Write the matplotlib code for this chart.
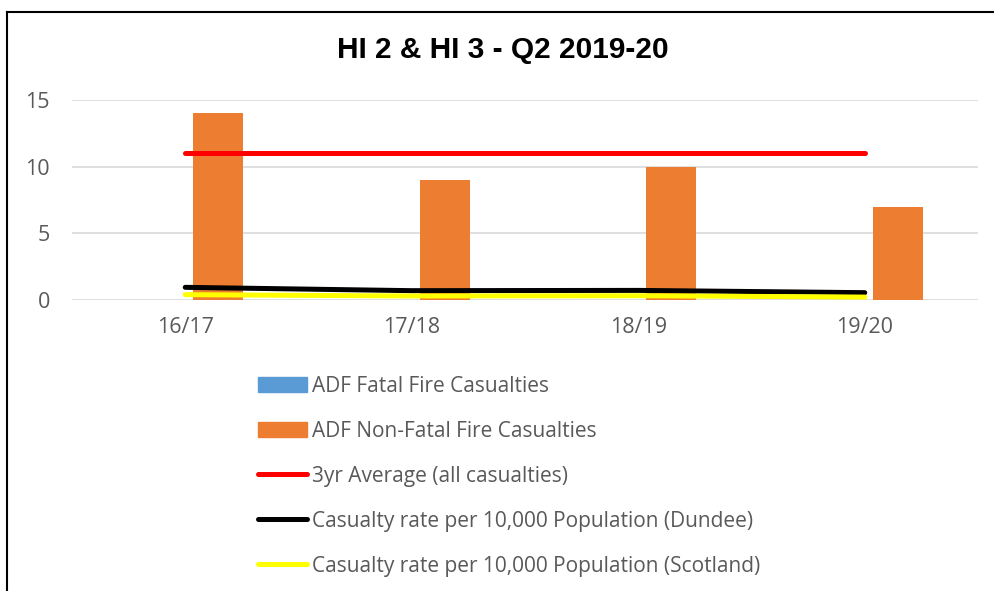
import numpy as np
import matplotlib.pyplot as plt
from matplotlib.lines import Line2D
from matplotlib.patches import Patch

categories = ['16/17', '17/18', '18/19', '19/20']
fatal = [0, 0, 0, 0]
non_fatal = [14, 9, 10, 7]
avg_3yr = [11, 11, 11, 11]
rate_dundee = [0.95, 0.7, 0.72, 0.55]
rate_scotland = [0.4, 0.3, 0.32, 0.22]

grey = '#595959'
blue = '#5B9BD5'
orange = '#ED7D31'

fig = plt.figure(figsize=(9.95, 5.91), dpi=100)
ax = fig.add_axes([72 / 995, 1 - 300 / 591, 906 / 995, 200 / 591])

x = np.arange(len(categories))
ax.bar(x - 0.08, fatal, width=0.22, color=blue, zorder=2)
ax.bar(x + 0.146, non_fatal, width=0.22, color=orange, zorder=2)
ax.plot(x, avg_3yr, color='#FF0000', lw=3.6, solid_capstyle='round', zorder=3)
ax.plot(x, rate_dundee, color='black', lw=3.6, solid_capstyle='round', zorder=3)
ax.plot(x, rate_scotland, color='#FFFF00', lw=3.6, solid_capstyle='round', zorder=3)

ax.set_xlim(-0.5, len(categories) - 0.5)
ax.set_ylim(0, 15)
ax.set_yticks([0, 5, 10, 15])
ax.set_xticks(x)
ax.set_xticklabels(categories)
ax.yaxis.grid(True, color='#D9D9D9', lw=1.2)
ax.set_axisbelow(True)
for s in ax.spines.values():
    s.set_visible(False)
ax.tick_params(length=0, labelsize=15.5, labelcolor=grey)
ax.tick_params(axis='y', pad=16)
ax.tick_params(axis='x', pad=12)
for lab in ax.get_xticklabels() + ax.get_yticklabels():
    lab.set_family('Open Sans')

fig.text(0.505, 1 - 50 / 591, 'HI 2 & HI 3 - Q2 2019-20', ha='center', va='center',
         fontsize=21.5, fontweight='bold', family='Liberation Sans')

handles = [
    Patch(color=blue),
    Patch(color=orange),
    Line2D([], [], color='#FF0000', lw=3.6, solid_capstyle='round'),
    Line2D([], [], color='black', lw=3.6, solid_capstyle='round'),
    Line2D([], [], color='#FFFF00', lw=3.6, solid_capstyle='round'),
]
labels = ['ADF Fatal Fire Casualties', 'ADF Non-Fatal Fire Casualties',
          '3yr Average (all casualties)',
          'Casualty rate per 10,000 Population (Dundee)',
          'Casualty rate per 10,000 Population (Scotland)']
leg = fig.legend(handles, labels, loc='upper left', bbox_to_anchor=(239 / 995, 1 - 357 / 591),
                 frameon=False, ncol=1, handlelength=2.35, handletextpad=0.25,
                 labelspacing=1.15, prop={'family': 'Open Sans', 'size': 15})
for t in leg.get_texts():
    t.set_color(grey)

fig.add_artist(Line2D([7 / 995, 7 / 995], [0, 1 - 12 / 591], color='black', lw=1.5))
fig.add_artist(Line2D([7 / 995, 1], [1 - 12 / 591, 1 - 12 / 591], color='black', lw=1.5))

fig.savefig('out.png', dpi=100)
